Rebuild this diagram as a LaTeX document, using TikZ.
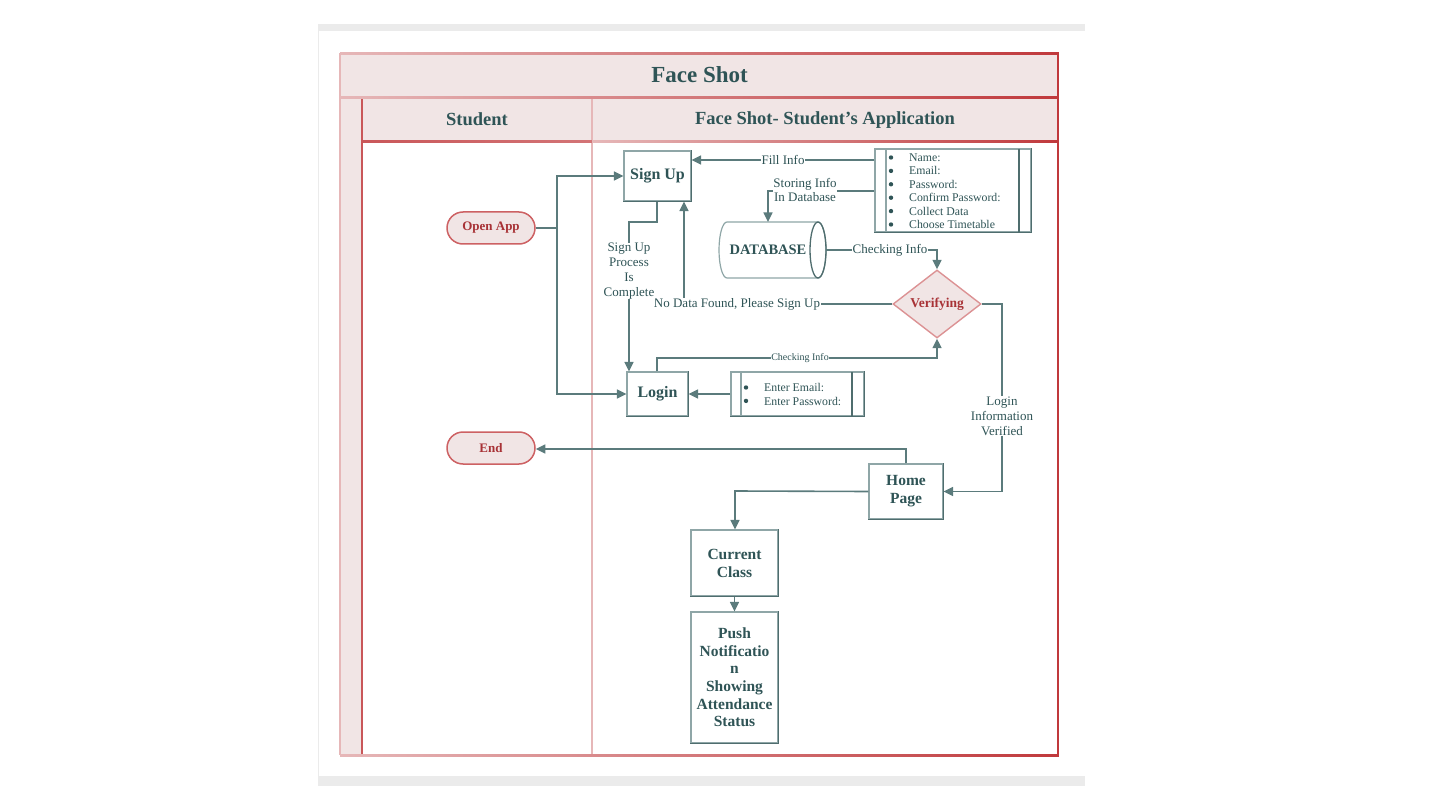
\documentclass[tikz,border=0pt]{standalone}
\usepackage{fontspec}
\setmainfont{Liberation Serif}
\usetikzlibrary{shapes.geometric,arrows.meta}
\definecolor{linec}{HTML}{5B7B7C}
\definecolor{textc}{HTML}{2F5456}
\definecolor{redtext}{HTML}{A83236}
\definecolor{pinkfill}{HTML}{F1E5E5}
\definecolor{lightred}{HTML}{E6B7B8}
\definecolor{darkred}{HTML}{C0393C}
\definecolor{boxc}{HTML}{8FA6A7}
\definecolor{boxdark}{HTML}{4F6D6E}
\definecolor{pagegray}{HTML}{EBEBEB}
\begin{document}
\begin{tikzpicture}[x=1pt,y=-1pt,
  conn/.style={draw=linec, line width=1.6pt, -{Triangle[length=9.5pt,width=9pt]}},
  plainline/.style={draw=linec, line width=1.6pt},
  procbox/.style={rectangle, draw=boxc, fill=white, line width=1.2pt, inner sep=0pt,
    text=textc, align=center, font=\bfseries\fontsize{15.5}{18}\selectfont},
  listbox/.style={rectangle, draw=boxc, fill=white, line width=1.2pt, inner sep=0pt},
  listtext/.style={text=textc, align=left, inner sep=0pt, font=\fontsize{11.8}{13.4}\selectfont},
  bul/.style={fill=textc},
  termbox/.style={rectangle, rounded corners=16pt, draw=darkred!80, fill=pinkfill, line width=1.5pt,
    minimum width=88pt, minimum height=32pt, inner sep=0pt, text=redtext, font=\bfseries\fontsize{13}{15}\selectfont},
  lab/.style={text=textc, fill=white, inner sep=1pt, align=center, font=\fontsize{13}{14.6}\selectfont},
  hdr/.style={text=textc, font=\bfseries\fontsize{18.5}{20}\selectfont}
]
\useasboundingbox (0,0) rectangle (1440,810);
% page bands
\fill[pagegray] (318,24) rectangle (1085,31);
\fill[pagegray] (318,776) rectangle (1085,786);
\draw[pagegray, line width=0.8pt] (318.5,31) -- (318.5,776);
% pool
\fill[pinkfill] (340,53) rectangle (1058,97);
\fill[pinkfill] (340,97) rectangle (362,755);
\fill[pinkfill] (362,97) rectangle (1058,141);
\draw[lightred, line width=1.4pt] (340,53) -- (340,755);
\draw[lightred, line width=1.4pt] (592,97) -- (592,755);
\draw[darkred!85, line width=1.4pt] (362,97) -- (362,755);
\draw[darkred, line width=1.6pt] (1058,53) -- (1058,755);
\shade[left color=lightred, right color=darkred] (340,52.2) rectangle (1058.8,54.2);
\shade[left color=lightred, right color=darkred] (340,96.2) rectangle (1058.8,98.2);
\shade[left color=darkred!85, right color=darkred!70] (362,140.2) rectangle (592,142.2);
\shade[left color=lightred, right color=darkred] (592,140.2) rectangle (1058.8,142.2);
\shade[left color=lightred, right color=darkred] (340,754) rectangle (1058.8,756);
\node[hdr, font=\bfseries\fontsize{23}{25}\selectfont] (title) at (699.5,75) {Face Shot};
\node[hdr] (hstudent) at (477,119) {Student};
\node[hdr, anchor=base] (happ) at (825,125) {Face Shot- Student’s Application};

% nodes
\node[procbox, font=\bfseries\fontsize{16}{18}\selectfont, minimum width=67pt, minimum height=50pt] (signup) at (657.5,176) {Sign Up};
\node[procbox, font=\bfseries\fontsize{16}{18}\selectfont, minimum width=61pt, minimum height=44pt] (login) at (657.5,394) {Login};
\node[procbox, minimum width=74pt, minimum height=55pt] (home) at (906,491.5) {Home\\Page};
\node[procbox, minimum width=87pt, minimum height=66pt] (current) at (734.5,563) {Current\\Class};
\node[procbox, minimum width=87pt, minimum height=131pt, font=\bfseries\fontsize{15.5}{17.6}\selectfont] (push) at (734.5,677.5) {Push\\Notificatio\\n\\Showing\\Attendance\\Status};

\node[listbox, minimum width=156pt, minimum height=83pt] (info) at (953,190.5) {};
\draw[boxc, line width=1.2pt] (886,149) -- (886,232);
\draw[boxdark, line width=1.4pt] (1019,149) -- (1019,232);
\node[listtext, anchor=north west] (infotext) at (909,153.5) {Name:\\Email:\\Password:\\Confirm Password:\\Collect Data\\Choose Timetable};
\foreach \k in {0,...,5}{ \fill[bul] (891,157.5+13.4*\k) circle (2.2); }

\node[listbox, minimum width=133pt, minimum height=44pt] (logininfo) at (797.5,394) {};
\draw[boxc, line width=1.2pt] (741,372) -- (741,416);
\draw[boxdark, line width=1.4pt] (852,372) -- (852,416);
\node[listtext, anchor=north west] (logintext) at (764,383.5) {Enter Email:\\Enter Password:};
\foreach \k in {0,1}{ \fill[bul] (746,387.5+13.4*\k) circle (2.2); }

% darker right/bottom edges
\foreach \n in {signup,login,home,current,push,info,logininfo}{
  \draw[boxdark, line width=1.4pt] (\n.north east) -- (\n.south east) -- (\n.south west);
}

% database cylinder drawn directly
\filldraw[draw=boxc, fill=white, line width=1.2pt]
  (818,222) -- (727,222) arc[start angle=90, end angle=270, x radius=8, y radius=-28] -- (818,278)
  arc[start angle=270, end angle=450, x radius=8, y radius=-28] -- cycle;
\draw[boxdark, line width=1.3pt] (818,222) arc[start angle=90, end angle=270, x radius=8, y radius=-28];
\draw[boxdark, line width=1.3pt] (818,278) arc[start angle=270, end angle=450, x radius=8, y radius=-28];
\node[rectangle, minimum width=108pt, minimum height=56pt, inner sep=0pt] (db) at (772,250) {};
\node[text=textc, font=\bfseries\fontsize{14.5}{16}\selectfont, inner sep=0pt] (dbtext) at (768,250) {DATABASE};

\node[diamond, draw=darkred!55, fill=pinkfill, line width=1.4pt, minimum width=88pt, minimum height=68pt,
  inner sep=0pt, text=redtext, font=\bfseries\fontsize{13.5}{15}\selectfont] (verify) at (937,304) {Verifying};
\node[termbox] (open) at (491,228) {Open App};
\node[termbox] (end) at (491,448) {End};

% connectors
\coordinate (split) at (557,228);
\draw[plainline] (open.east) -- (split);
\draw[conn] (split) |- (signup.west);
\draw[conn] (split) |- (login.west);

\draw[conn] (info.west |- 0,160) -- (signup.east |- 0,160);
\node[lab] (lfill) at (783,160) {Fill Info};

\coordinate (dbturn) at (768,191);
\draw[conn] (info.west |- 0,191) -- (dbturn) -- (768,222);
\node[lab, font=\fontsize{13}{14}\selectfont, inner sep=0.5pt] (lstore) at (805,190) {Storing Info\\In Database};

\coordinate (chk) at (937,250);
\draw[conn] (db.east) -- (chk) -- (verify.north);
\node[lab] (lchk) at (890,250) {Checking Info};

\coordinate (nodata) at (684,304);
\draw[conn] (verify.west) -- (nodata) -- (nodata |- signup.south);
\node[lab, inner sep=0.5pt] (lnodata) at (737,304) {No Data Found, Please Sign Up};

\coordinate (su1) at (657,222);
\coordinate (su2) at (629,222);
\draw[conn] (signup.south -| su1) -- (su1) -- (su2) -- (su2 |- login.north);
\node[lab, font=\fontsize{13}{14.8}\selectfont, inner sep=0.5pt] (lsucomp) at (629,271) {Sign Up\\Process\\Is\\Complete};

\coordinate (lg1) at (657,358);
\coordinate (lg2) at (937,358);
\draw[conn] (login.north -| lg1) -- (lg1) -- (lg2) -- (verify.south);
\node[lab, font=\fontsize{10}{11}\selectfont, inner sep=0.5pt] (lchk2) at (800,358) {Checking Info};

\draw[conn] (logininfo.west) -- (login.east);

\coordinate (vr) at (1002,304);
\draw[conn] (verify.east) -- (vr) |- (home.east);
\node[lab, font=\fontsize{13}{14.8}\selectfont] (lver) at (1002,416) {Login\\Information\\Verified};

\coordinate (he) at (906,449);
\draw[conn] (home.north) -- (he) -- (end.east |- he);

\coordinate (hc) at (735,491);
\draw[conn] (home.west) -- (hc) -- (current.north -| hc);

\draw[conn] (current.south) -- (push.north);
\end{tikzpicture}
\end{document}
